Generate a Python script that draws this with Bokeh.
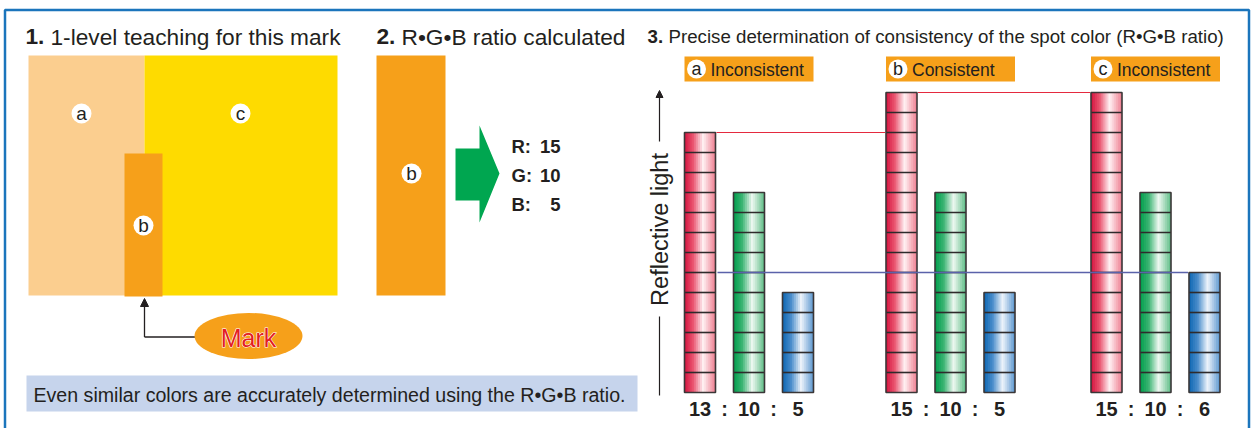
import math
from bokeh.plotting import figure
from bokeh.models import Range1d, Arrow, NormalHead
from bokeh.core.properties import value
from bokeh.embed import file_html
from bokeh.resources import INLINE

# ---------------- data ----------------
spots = ["a", "b", "c"]
verdicts = ["Inconsistent", "Consistent", "Inconsistent"]
red_vals = [13, 15, 15]
green_vals = [10, 10, 10]
blue_vals = [5, 5, 6]
channels = ["R", "G", "B"]
taught = "b"
title1 = ("1.", "1-level teaching for this mark")
title2 = ("2.", "R\u2022G\u2022B ratio calculated")
title3 = ("3.", "Precise determination of consistency of the spot color (R\u2022G\u2022B ratio)")
axis_label = "Reflective light"
mark_label = "Mark"
note = "Even similar colors are accurately determined using the R\u2022G\u2022B ratio."

# ---------------- style / layout ----------------
DARK = "#231F20"
ORANGE = "#F6A01A"
FONT = "Liberation Sans"
group_left = [684, 885.5, 1090.5]
bar_off = [0, 49, 98]
bar_w = 31
grad_stops = {
    "R": ["#D3133E", "#EA5570", "#FFF2F4", "#EE7D8F"],
    "G": ["#009E4C", "#3BB473", "#EEF8F1", "#5CBC85"],
    "B": ["#0D66B1", "#4A8DCB", "#EEF4FB", "#5A96CF"],
}
stop_pos = [0.0, 0.28, 0.6, 1.0]


def hex2rgb(h):
    h = h.lstrip("#")
    return [int(h[i:i + 2], 16) for i in (0, 2, 4)]


def grad_color(stops, t):
    for i in range(len(stop_pos) - 1):
        if stop_pos[i] <= t <= stop_pos[i + 1]:
            f = (t - stop_pos[i]) / (stop_pos[i + 1] - stop_pos[i])
            a, b = hex2rgb(stops[i]), hex2rgb(stops[i + 1])
            c = [round(a[k] + (b[k] - a[k]) * f) for k in range(3)]
            return "#%02x%02x%02x" % tuple(c)
    return stops[-1]


p = figure(width=1251, height=428, x_range=Range1d(0, 1251), y_range=Range1d(428, 0),
           output_backend="svg", toolbar_location=None, min_border=0,
           x_axis_type=None, y_axis_type=None, outline_line_color=None,
           background_fill_color="white", border_fill_color="white")
p.grid.visible = False
p.extra_y_ranges = {"val": Range1d(-1.8, 19.6)}

# frame
p.line([4.5, 4.5, 1248.5, 1248.5], [428, 9.5, 9.5, 428], line_color="#1B75BC", line_width=2.5)

# ---------- section titles ----------
def title(num, rest, x, x2, y, size):
    p.text([x], [y], text=[num], text_font=value(FONT), text_font_size=size,
           text_font_style="bold", text_color=DARK, text_baseline="alphabetic")
    p.text([x2], [y], text=[rest], text_font=value(FONT), text_font_size=size,
           text_color=DARK, text_baseline="alphabetic")

title(title1[0], title1[1], 25, 50, 36, "22.7px")
title(title2[0], title2[1], 376, 401, 36, "22.7px")
title(title3[0], title3[1], 647, 668, 35.5, "18.7px")

# ---------- section 1 ----------
p.quad(left=[28], right=[144], top=[55], bottom=[295], fill_color="#FBCE8F", line_color=None)
p.quad(left=[144], right=[337], top=[55], bottom=[295], fill_color="#FEDB00", line_color=None)
p.quad(left=[124], right=[162], top=[153], bottom=[296], fill_color=ORANGE, line_color=None)
circ_x = [81, 143, 240]
circ_y = [113, 225, 113]
p.circle(circ_x, circ_y, radius=10, fill_color="white", line_color=None)
p.text(circ_x, circ_y, text=spots, text_font=value(FONT), text_font_size="19px",
       text_color=DARK, text_align="center", text_baseline="middle")
p.add_layout(Arrow(end=NormalHead(size=8, fill_color=DARK, line_color=DARK),
                   x_start=144, y_start=336.5, x_end=144, y_end=298,
                   line_color=DARK, line_width=1.3))
p.line([144, 200], [336.5, 336.5], line_color=DARK, line_width=1.3)
p.ellipse(x=[248], y=[335.5], width=[108], height=[46], fill_color=ORANGE, line_color=None)
p.text([248], [337], text=[mark_label], text_font=value(FONT), text_font_size="25px",
       text_color="white", text_outline_color="white", text_align="center",
       text_baseline="middle")
p.text([248], [337], text=[mark_label], text_font=value(FONT), text_font_size="25px",
       text_color="#E31E24", text_align="center", text_baseline="middle")

# ---------- section 2 ----------
p.quad(left=[376], right=[445], top=[55], bottom=[295], fill_color=ORANGE, line_color=None)
p.circle([411], [173], radius=10, fill_color="white", line_color=None)
p.text([411], [173], text=[taught], text_font=value(FONT), text_font_size="19px",
       text_color=DARK, text_align="center", text_baseline="middle")
p.patch([455, 479, 479, 499, 479, 479, 455], [148, 148, 125, 173, 222, 200, 200],
        fill_color="#00A650", line_color=None)
ti = spots.index(taught)
taught_vals = [red_vals[ti], green_vals[ti], blue_vals[ti]]
rgb_y = [146, 175, 204]
p.text([511] * 3, rgb_y, text=[c + ":" for c in channels], text_font=value(FONT),
       text_font_size="18.5px", text_font_style="bold", text_color=DARK,
       text_baseline="alphabetic")
p.text([560] * 3, rgb_y, text=[str(v) for v in taught_vals], text_font=value(FONT),
       text_font_size="18.5px", text_font_style="bold", text_color=DARK,
       text_baseline="alphabetic", text_align="right")

# note box
p.quad(left=[26], right=[637], top=[375], bottom=[411], fill_color="#C6D4EC", line_color=None)
p.text([33], [394], text=[note], text_font=value(FONT), text_font_size="19.6px",
       text_color=DARK, text_baseline="middle")

# ---------- section 3: bars ----------
n_strips = 16
sl, sr, sb, st, sc = [], [], [], [], []
ol, orr, ot = [], [], []
dx0, dx1, dy = [], [], []
series = [red_vals, green_vals, blue_vals]
for g in range(len(spots)):
    for ci, ch in enumerate(channels):
        v = series[ci][g]
        x0 = group_left[g] + bar_off[ci]
        for s in range(n_strips):
            t = (s + 0.5) / n_strips
            sl.append(x0 + bar_w * s / n_strips)
            sr.append(min(x0 + bar_w * (s + 1) / n_strips + 1.0, x0 + bar_w))
            sb.append(0)
            st.append(v)
            sc.append(grad_color(grad_stops[ch], t))
        ol.append(x0)
        orr.append(x0 + bar_w)
        ot.append(v)
        for k in range(1, v):
            dx0.append(x0)
            dx1.append(x0 + bar_w)
            dy.append(k)

p.quad(left=sl, right=sr, bottom=sb, top=st, fill_color=sc, line_color=None, y_range_name="val")
p.segment(x0=dx0, y0=dy, x1=dx1, y1=dy, line_color="#2E2A2B", line_width=1.6, y_range_name="val")
p.quad(left=ol, right=orr, bottom=[0] * len(ol), top=ot, fill_color=None,
       line_color="#3A3637", line_width=1.6, y_range_name="val")

# reference lines
p.segment(x0=[group_left[0] + bar_w + 1, group_left[1] + bar_w + 1],
          y0=[red_vals[0], red_vals[1]],
          x1=[group_left[1] - 1, group_left[2] - 1],
          y1=[red_vals[0], red_vals[1]],
          line_color="#E42A3F", line_width=1.2, y_range_name="val")
p.segment(x0=[group_left[0] + bar_w + 2], y0=[blue_vals[2]],
          x1=[group_left[2] + bar_off[2] - 1], y1=[blue_vals[2]],
          line_color="#5A62AA", line_width=1.6, y_range_name="val")

# verdict labels
box_l = [gl for gl in group_left]
box_r = [gl + bar_off[2] + bar_w for gl in group_left]
p.quad(left=box_l, right=box_r, top=[56] * 3, bottom=[81] * 3, fill_color=ORANGE, line_color=None)
cx = [gl + 12 for gl in group_left]
p.circle(cx, [68.5] * 3, radius=9.5, fill_color="white", line_color=None)
p.text(cx, [68.5] * 3, text=spots, text_font=value(FONT), text_font_size="18px",
       text_color=DARK, text_align="center", text_baseline="middle")
p.text([gl + 26 for gl in group_left], [69] * 3, text=verdicts, text_font=value(FONT),
       text_font_size="17.5px", text_color=DARK, text_baseline="middle")

# ratio labels
lx, ltxt = [], []
for g in range(len(spots)):
    vals = [red_vals[g], green_vals[g], blue_vals[g]]
    for ci in range(3):
        lx.append(group_left[g] + bar_off[ci] + bar_w / 2)
        ltxt.append(str(vals[ci]))
    for ci in range(2):
        lx.append(group_left[g] + (bar_off[ci] + bar_w + bar_off[ci + 1]) / 2)
        ltxt.append(":")
p.text(lx, [408] * len(lx), text=ltxt, text_font=value(FONT), text_font_size="20px",
       text_font_style="bold", text_color=DARK, text_align="center", text_baseline="alphabetic")

# vertical axis arrow + label
p.add_layout(Arrow(end=NormalHead(size=7, fill_color=DARK, line_color=DARK),
                   x_start=659, y_start=141, x_end=659, y_end=90,
                   line_color=DARK, line_width=1.2))
p.line([659, 659], [316, 395], line_color=DARK, line_width=1.2)
p.text([659], [229], text=[axis_label], text_font=value(FONT), text_font_size="23.5px",
       text_color=DARK, text_align="center", text_baseline="middle", angle=math.pi / 2)

open("out.html", "w").write(file_html(p, INLINE))
